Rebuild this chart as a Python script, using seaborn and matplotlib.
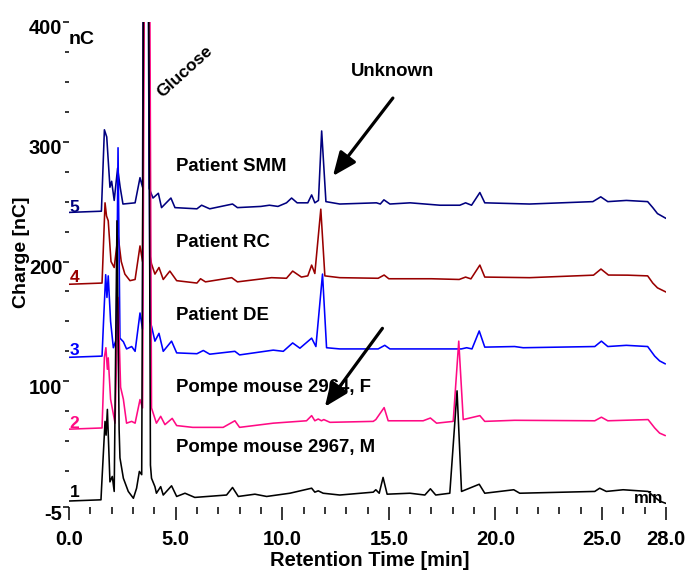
import matplotlib
matplotlib.use("Agg")
import matplotlib.pyplot as plt
import matplotlib.transforms as mtransforms
from matplotlib.ticker import FixedLocator
import pandas as pd
import seaborn as sns

# ---------------- data (retention time [min], charge [nC]) ----------------
# trace 5 : Patient SMM
t5 = [0.0, 1.52, 1.66, 1.77, 1.92, 2.0, 2.12, 2.28, 2.4, 2.53, 3.1, 3.33, 3.45, 3.58, 3.76,
      3.94, 4.19, 4.34, 4.78, 4.97, 6.0, 6.22, 6.6, 7.67, 7.9, 9.0, 9.4, 9.8, 10.2, 10.44,
      10.7, 11.2, 11.38, 11.53, 11.7, 11.85, 12.05, 12.7, 14.42, 14.6, 14.77, 15.05, 16.0,
      17.4, 18.33, 18.6, 18.88, 19.27, 19.5, 21.6, 24.57, 24.94, 25.27, 26.14, 27.14,
      27.38, 27.6, 28.0]
v5 = [241, 242, 310, 304, 262, 267, 251, 278, 262, 248, 249, 270, 262, 1000, 261,
      253, 257, 245, 253, 245, 244, 247, 244, 248, 245, 246, 247, 246, 249, 253,
      249, 249, 255.6, 249, 251, 309, 250, 248, 249, 248, 251.5, 248, 249,
      247, 247, 249, 247, 257.6, 249, 248, 250, 254, 250, 251, 250,
      245, 240, 236]

# trace 4 : Patient RC
t4 = [0.0, 1.55, 1.69, 1.76, 1.84, 1.97, 2.12, 2.3, 2.45, 2.62, 2.86, 3.1, 3.33, 3.45,
      3.62, 3.8, 3.87, 4.03, 4.22, 4.42, 4.73, 5.05, 6.0, 6.17, 6.4, 7.63, 7.9, 9.5, 10.2,
      10.49, 10.9, 11.2, 11.38, 11.53, 11.81, 12.0, 12.7, 14.5, 14.78, 15.0, 17.0, 18.3,
      18.6, 18.85, 19.27, 19.5, 21.6, 24.6, 24.95, 25.3, 26.2, 27.14, 27.38, 27.6, 28.0]
v4 = [181, 182, 249, 238, 234, 200, 195, 222, 200, 189.5, 184, 185, 213, 200,
      1000, 205, 198, 189.5, 195, 185, 192, 184, 182, 185.6, 183, 186.5, 183, 186.5, 186,
      192, 187, 188, 197, 190, 243.7, 188, 186.5, 186, 188.7, 185.6, 185.6, 185,
      187, 185.5, 197, 187, 186.5, 188.6, 193.7, 188.7, 188.6, 188, 182, 178, 174.5]

# trace 3 : Patient DE
t3 = [0.0, 1.55, 1.62, 1.72, 1.78, 1.84, 1.95, 2.08, 2.22, 2.3, 2.39, 2.55, 2.7, 2.94,
      3.1, 3.33, 3.45, 3.6, 3.8, 3.87, 4.03, 4.22, 4.42, 4.81, 5.05, 6.0, 6.3, 6.6, 7.78,
      8.0, 9.58, 10.05, 10.49, 10.83, 11.38, 11.58, 11.89, 12.08, 12.7, 14.5, 14.81,
      15.05, 17.4, 18.4, 18.65, 18.9, 19.24, 19.5, 20.9, 21.3, 24.66, 24.97, 25.27,
      26.14, 27.14, 27.47, 27.7, 27.97]
v3 = [120, 121, 150, 189, 170, 188, 150, 128, 135, 295, 136, 133, 127, 129,
      125, 157, 143.5, 1000, 150, 146, 133.5, 140, 125, 133.5, 123.7, 123, 125.7, 122.6, 125,
      122, 126, 125, 132, 127.6, 136, 129, 189.5, 128, 127, 127, 130,
      127, 127, 127, 128, 127, 142, 128.5, 129, 128, 129, 133.5, 129,
      130, 129, 121, 117, 114.5]

# trace 2 : Pompe mouse 2964, F
t2 = [0.0, 1.55, 1.66, 1.73, 1.8, 1.84, 1.95, 2.16, 2.3, 2.42, 2.55, 2.7, 2.94, 3.1,
      3.33, 3.45, 3.66, 3.87, 4.1, 4.3, 4.5, 4.84, 5.05, 5.8, 7.23, 7.78, 8.0, 9.58,
      11.14, 11.38, 11.53, 11.69, 11.84, 11.95, 12.24, 14.27, 14.39, 14.78, 14.97, 16.61,
      16.95, 17.24, 18.02, 18.28, 18.49, 19.27, 19.5, 20.9, 24.66, 24.97, 25.27, 27.16,
      27.47, 27.7, 27.97]
v2 = [60, 61, 120, 128, 110, 119.5, 85, 65, 170, 95, 85, 65, 66.5, 65,
      84.7, 77.7, 1000, 77.7, 65, 70.7, 63.8, 69, 63, 61.5, 61.5, 67, 61.5, 65,
      67, 71.3, 67, 68.5, 67, 68, 65.7, 66.5, 68, 78, 67, 67,
      69.3, 65, 66.5, 133.5, 68, 71.3, 66.5, 67.4, 67, 70, 67, 68,
      61, 56.7, 54.6]

# trace 1 : Pompe mouse 2967, M
t1 = [0.0, 1.5, 1.53, 1.69, 1.74, 1.8, 1.92, 2.03, 2.12, 2.25, 2.35, 2.39, 2.55, 2.78,
      3.02, 3.17, 3.3, 3.41, 3.62, 3.82, 3.87, 4.03, 4.1, 4.3, 4.42, 4.81, 5.05, 5.44,
      5.9, 7.39, 7.67, 7.94, 8.72, 9.27, 10.36, 11.38, 11.53, 11.69, 11.92, 12.7, 14.27,
      14.39, 14.55, 14.73, 14.92, 15.99, 16.69, 16.95, 17.2, 17.86, 18.2, 18.41, 19.24,
      19.5, 20.86, 21.14, 24.66, 24.89, 25.2, 25.99, 27.16, 27.35, 27.7, 28.0]
v1 = [0, 1, 12, 66.5, 55, 76.5, 16, 20.5, 8, 234, 60, 36, 19, 8,
      2.3, 10.7, 24.7, 22, 1000, 30, 19, 12, 6.5, 12, 5, 12.7, 3.8, 6.5,
      3, 5, 11.3, 3.8, 5.7, 3.8, 6.5, 10.7, 7.4, 8.5, 6.5, 5, 7.4,
      9.4, 6.5, 19.7, 5.7, 6.5, 5, 10.2, 5, 6.5, 92, 8, 14,
      6.5, 9.4, 6.5, 8, 10.7, 8, 9.4, 8, 5, 0, -2]

sample_names = ["Patient SMM", "Patient RC", "Patient DE",
                "Pompe mouse 2964, F", "Pompe mouse 2967, M"]
trace_ids = ["5", "4", "3", "2", "1"]
trace_colors = ["#00007F", "#990000", "#0000FF", "#FF0A84", "#000000"]

x_ticks = [0, 5, 10, 15, 20, 25, 28]
x_tick_labels = ["0.0", "5.0", "10.0", "15.0", "20.0", "25.0", "28.0"]
y_ticks = [-5, 100, 200, 300, 400]
y_tick_labels = ["-5", "100", "200", "300", "400"]

# ---------------- figure ----------------
sns.set_style("white")
plt.rcParams["font.family"] = ["Liberation Sans", "DejaVu Sans"]
plt.rcParams["axes.unicode_minus"] = False
for key in ["text.color", "axes.labelcolor", "xtick.color", "ytick.color"]:
    plt.rcParams[key] = "black"

fig = plt.figure(figsize=(6.91, 5.72), dpi=100)
ax = fig.add_axes([69 / 691, 1 - 507 / 572, 597 / 691, 485 / 572])

series = [(t5, v5), (t4, v4), (t3, v3), (t2, v2), (t1, v1)]
for (t, v), c in zip(series, trace_colors):
    df = pd.DataFrame({"t": t, "v": v})
    sns.lineplot(data=df, x="t", y="v", color=c, lw=1.15, ax=ax,
                 legend=False, errorbar=None, estimator=None)

ax.set_xlim(0, 28)
ax.set_ylim(-5, 400)
for s in ax.spines.values():
    s.set_visible(False)

ax.set_xticks(x_ticks)
ax.set_xticklabels(x_tick_labels, fontsize=14.5, fontweight="bold", color="black")
ax.set_yticks(y_ticks)
ax.set_yticklabels(y_tick_labels, fontsize=14.5, fontweight="bold", color="black")
ax.xaxis.set_minor_locator(FixedLocator([m for m in range(1, 28) if m % 5 != 0]))
ax.yaxis.set_minor_locator(FixedLocator([25, 50, 75, 125, 150, 175, 225, 250, 275,
                                         325, 350, 375]))
ax.tick_params(axis="x", which="major", direction="out", length=9.4, width=1.1,
               pad=7, bottom=True, color="black")
ax.tick_params(axis="x", which="minor", direction="out", length=5, width=1.1,
               bottom=True, color="black")
ax.tick_params(axis="y", which="major", direction="out", length=4.3, width=1.1,
               pad=0.5, left=True, color="black")
ax.tick_params(axis="y", which="minor", direction="out", length=3, width=1.1,
               left=True, color="black")
off = mtransforms.ScaledTranslation(0, -0.05, fig.dpi_scale_trans)
for lbl in ax.get_yticklabels():
    lbl.set_transform(lbl.get_transform() + off)

ax.set_xlabel("Retention Time [min]", fontsize=14.5, fontweight="bold", color="black")
ax.xaxis.set_label_coords(0.504, -0.09)
ax.set_ylabel("Charge [nC]", fontsize=14, fontweight="bold", color="black")
ax.yaxis.set_label_coords(-0.065, 0.526)

# unit labels
ax.text(0.0, 385, "nC", fontsize=14, fontweight="bold", ha="left", va="center")
ax.text(27.2, 1.7, "min", fontsize=12, fontweight="bold", ha="center", va="center")

# trace numbers and sample names
id_y = [245.5, 187, 125.5, 65, 6.7]
name_y = [279, 215.5, 155, 94.4, 44.3]
for tid, c, yy in zip(trace_ids, trace_colors, id_y):
    ax.text(0.25, yy, tid, color=c, fontsize=12.5, fontweight="bold",
            ha="center", va="center")
for name, yy in zip(sample_names, name_y):
    ax.text(5.0, yy, name, fontsize=13.4, fontweight="bold", ha="left", va="center")

ax.text(5.44, 358.5, "Glucose", fontsize=12.5, fontweight="bold", rotation=42,
        ha="center", va="center", rotation_mode="anchor")
ax.text(15.19, 358.5, "Unknown", fontsize=13.4, fontweight="bold",
        ha="center", va="center")

arrow_kw = dict(arrowstyle="-|>,head_length=0.9,head_width=0.38", lw=2.3,
                color="black", mutation_scale=16, shrinkA=0, shrinkB=0)
ax.annotate("", xy=(12.38, 271.4), xytext=(15.19, 336.5), arrowprops=arrow_kw)
ax.annotate("", xy=(12.0, 78.7), xytext=(14.7, 144.2), arrowprops=arrow_kw)

fig.savefig("out.png", dpi=100)
